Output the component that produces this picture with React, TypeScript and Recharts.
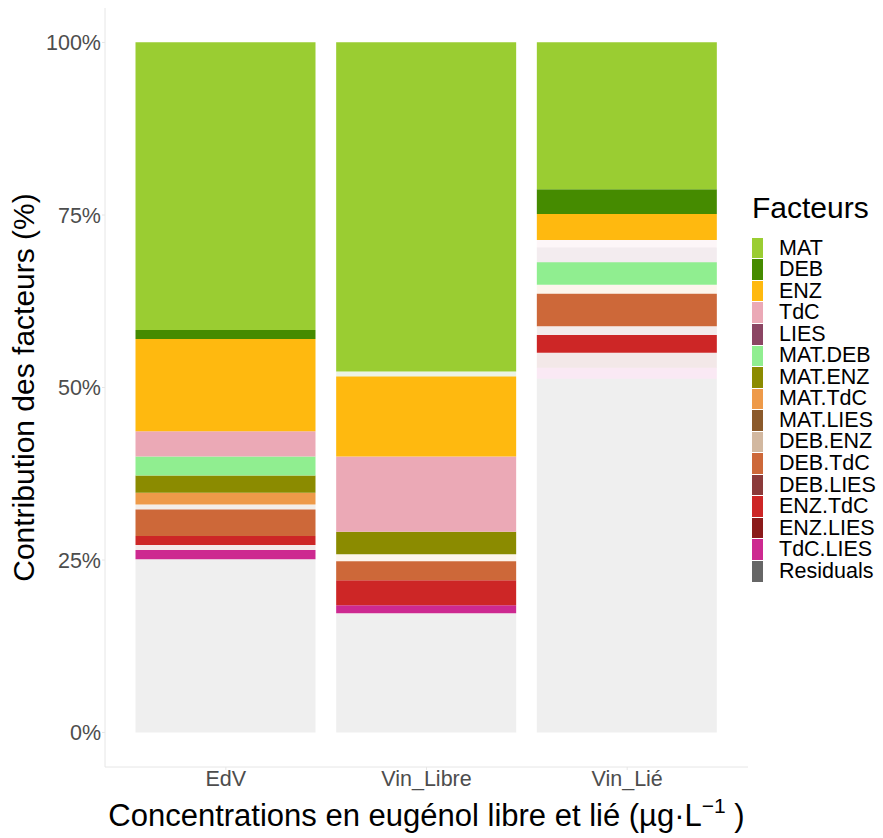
import { BarChart, Bar, Cell, XAxis, YAxis } from 'recharts'

const categories = ['EdV', 'Vin_Libre', 'Vin_Lié']

// contribution (%) per factor, one value per category
const MAT = [41.7, 47.7, 21.3]
const DEB = [1.3, 0.72, 3.57]
const ENZ = [13.37, 11.6, 3.76]
const TdC = [3.66, 10.9, 1.11]
const LIES = [0, 0, 2.11]
const MAT_DEB = [2.75, 0, 3.28]
const MAT_ENZ = [2.5, 3.28, 0]
const MAT_TdC = [1.7, 1.0, 1.3]
const MAT_LIES = [0.72, 0, 0]
const DEB_ENZ = [0, 0, 0]
const DEB_TdC = [3.86, 2.75, 4.73]
const DEB_LIES = [0, 0, 1.24]
const ENZ_TdC = [1.3, 3.62, 2.6]
const ENZ_LIES = [0.72, 0, 2.17]
const TdC_LIES = [1.35, 1.16, 1.59]
const Residuals = [25.1, 17.3, 51.26]

// significant effect (1) or not (0), per category
const MAT_SIG = [1, 1, 1]
const DEB_SIG = [1, 0, 1]
const ENZ_SIG = [1, 1, 1]
const TdC_SIG = [1, 1, 0]
const LIES_SIG = [1, 1, 0]
const MAT_DEB_SIG = [1, 1, 1]
const MAT_ENZ_SIG = [1, 1, 1]
const MAT_TdC_SIG = [1, 0, 0]
const MAT_LIES_SIG = [0, 1, 1]
const DEB_ENZ_SIG = [1, 1, 1]
const DEB_TdC_SIG = [1, 1, 1]
const DEB_LIES_SIG = [1, 1, 0]
const ENZ_TdC_SIG = [1, 1, 1]
const ENZ_LIES_SIG = [0, 1, 0]
const TdC_LIES_SIG = [1, 1, 0]
const Residuals_SIG = [0, 0, 0]

const yTicks = [0, 25, 50, 75, 100]

const FONT = '"Liberation Sans", Arial, Helvetica, sans-serif'

const series = [
  { key: 'MAT', label: 'MAT', values: MAT, sig: MAT_SIG, color: '#9ACD32' },
  { key: 'DEB', label: 'DEB', values: DEB, sig: DEB_SIG, color: '#458B00' },
  { key: 'ENZ', label: 'ENZ', values: ENZ, sig: ENZ_SIG, color: '#FFB90F' },
  { key: 'TdC', label: 'TdC', values: TdC, sig: TdC_SIG, color: '#EBA9B6' },
  { key: 'LIES', label: 'LIES', values: LIES, sig: LIES_SIG, color: '#8B4563' },
  { key: 'MAT_DEB', label: 'MAT.DEB', values: MAT_DEB, sig: MAT_DEB_SIG, color: '#90EE90' },
  { key: 'MAT_ENZ', label: 'MAT.ENZ', values: MAT_ENZ, sig: MAT_ENZ_SIG, color: '#8B8B00' },
  { key: 'MAT_TdC', label: 'MAT.TdC', values: MAT_TdC, sig: MAT_TdC_SIG, color: '#EE9A49' },
  { key: 'MAT_LIES', label: 'MAT.LIES', values: MAT_LIES, sig: MAT_LIES_SIG, color: '#8B5A2B' },
  { key: 'DEB_ENZ', label: 'DEB.ENZ', values: DEB_ENZ, sig: DEB_ENZ_SIG, color: '#D2B8A0' },
  { key: 'DEB_TdC', label: 'DEB.TdC', values: DEB_TdC, sig: DEB_TdC_SIG, color: '#CD6839' },
  { key: 'DEB_LIES', label: 'DEB.LIES', values: DEB_LIES, sig: DEB_LIES_SIG, color: '#8B3A3A' },
  { key: 'ENZ_TdC', label: 'ENZ.TdC', values: ENZ_TdC, sig: ENZ_TdC_SIG, color: '#CD2626' },
  { key: 'ENZ_LIES', label: 'ENZ.LIES', values: ENZ_LIES, sig: ENZ_LIES_SIG, color: '#8B1A1A' },
  { key: 'TdC_LIES', label: 'TdC.LIES', values: TdC_LIES, sig: TdC_LIES_SIG, color: '#CD2990' },
  { key: 'Residuals', label: 'Residuals', values: Residuals, sig: Residuals_SIG, color: '#666666' },
]

const data = categories.map((name, i) => {
  const row: any = { name }
  series.forEach(s => { row[s.key] = s.values[i] })
  return row
})

function XTitle() {
  return (
    <text x={426.5} y={826} textAnchor="middle" fontSize={31} fill="#000" fontFamily={FONT}>
      Concentrations en eugénol libre et lié (µg·L
      <tspan dy={-13} fontSize={21}>−1</tspan>
      <tspan dy={13}> )</tspan>
    </text>
  )
}

function YTitle() {
  return (
    <text x={34} y={387.5} transform="rotate(-90, 34, 387.5)" textAnchor="middle" fontSize={30} fill="#000" fontFamily={FONT}>
      Contribution des facteurs (%)
    </text>
  )
}

function FactorLegend() {
  return (
    <div style={{ position: 'absolute', left: 752, top: 0, fontFamily: FONT, color: '#000' }}>
      <div style={{ position: 'absolute', top: 186, left: 0, fontSize: 30, lineHeight: '44px', whiteSpace: 'nowrap' }}>
        Facteurs
      </div>
      <div style={{ position: 'absolute', top: 237.3, left: 0 }}>
        {series.map(s => (
          <div key={s.key} style={{ display: 'flex', alignItems: 'center', height: 21.56 }}>
            <div style={{ width: 11, height: 20.5, background: s.color }} />
            <span style={{ marginLeft: 16, fontSize: 21.5, lineHeight: '21px', whiteSpace: 'nowrap' }}>{s.label}</span>
          </div>
        ))}
      </div>
    </div>
  )
}

export default function App() {
  // Bars stack from bottom: Residuals first, MAT on top
  const stackOrder = [...series].reverse()
  return (
    <div style={{ position: 'absolute', left: 0, top: 0, width: 883, height: 838, background: '#fff' }}>
      <BarChart
        width={883}
        height={838}
        data={data}
        margin={{ top: 8, right: 135, bottom: 0, left: 0 }}
      >
        <XAxis
          dataKey="name"
          height={71}
          padding={{ left: 20.5, right: 20.5 }}
          axisLine={{ stroke: '#e6e6e6' }}
          tickLine={{ stroke: '#e6e6e6' }}
          tickSize={3}
          tickMargin={1}
          tick={{ fill: '#4d4d4d', fontSize: 21.5, fontFamily: FONT }}
          label={<XTitle />}
        />
        <YAxis
          width={105}
          domain={[-5, 105]}
          ticks={yTicks}
          allowDataOverflow
          tickFormatter={(v: number) => `${v}%`}
          axisLine={{ stroke: '#e6e6e6' }}
          tickLine={{ stroke: '#e6e6e6' }}
          tickSize={3}
          tickMargin={1}
          tick={{ fill: '#4d4d4d', fontSize: 21.5, fontFamily: FONT }}
          label={<YTitle />}
        />
        {stackOrder.map(s => (
          <Bar key={s.key} dataKey={s.key} stackId="a" barSize={180} isAnimationActive={false}>
            {categories.map((c, i) => (
              <Cell key={c} fill={s.color} fillOpacity={s.sig[i] ? 1 : 0.1} />
            ))}
          </Bar>
        ))}
      </BarChart>
      <FactorLegend />
    </div>
  )
}
